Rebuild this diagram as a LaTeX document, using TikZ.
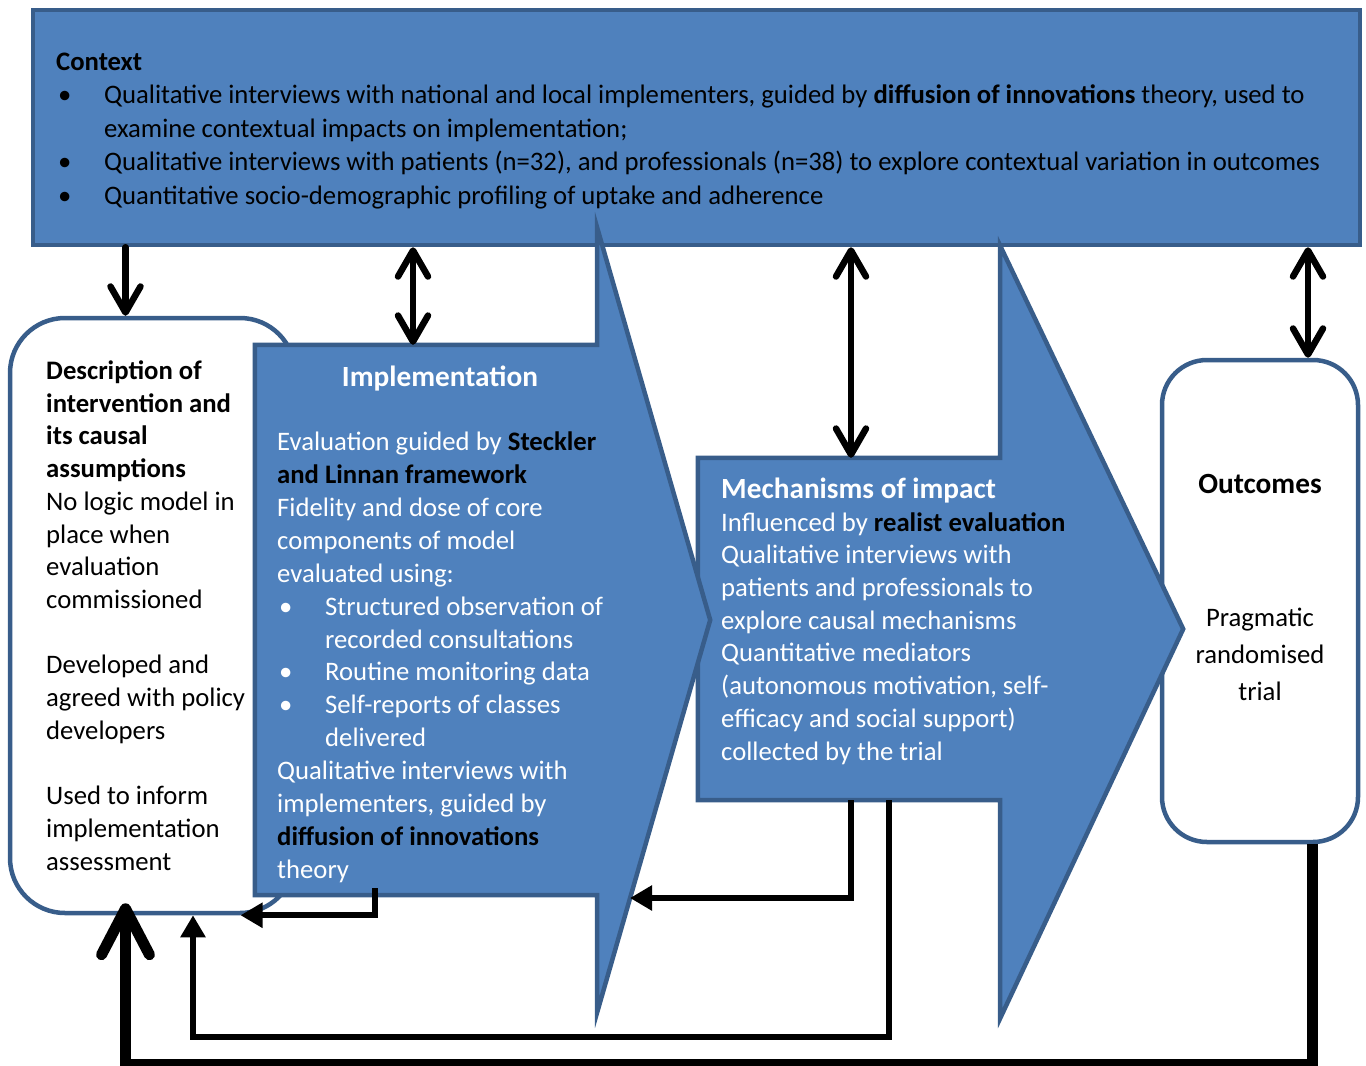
\documentclass[tikz,border=0pt]{standalone}
\usepackage{fontspec}
\setmainfont{Carlito}
\usepackage{tikz}
\usetikzlibrary{arrows.meta}
\definecolor{boxblue}{HTML}{4F81BD}
\definecolor{boxline}{HTML}{385D8A}
\newcommand{\itembul}{\makebox[48pt][l]{\hspace*{2pt}\textbullet}}
\newcommand{\titlesize}{\fontsize{29.3}{35}\selectfont}
\begin{document}
\begin{tikzpicture}[x=1pt,y=-1pt,
bluebox/.style={draw=boxline, fill=boxblue, line width=4.5pt},
whitebox/.style={draw=boxline, fill=white, line width=4.5pt},
frame/.style={draw=none, fill=none, inner sep=0pt},
txt/.style={font=\fontsize{26.7}{32.85}\selectfont, align=left, inner sep=0pt, anchor=base west},
barb/.style={line width=6.5pt, line cap=round, -{Straight Barb[length=26pt,width=30pt,round]}},
dbarb/.style={line width=6.5pt, line cap=round, {Straight Barb[length=26pt,width=30pt,round]}-{Straight Barb[length=26pt,width=30pt,round]}},
tri/.style={line width=6pt, -{Triangle[length=22pt,width=24pt]}},
bigbarb/.style={line width=11pt, -{Straight Barb[length=46pt,width=48pt,round]}}]
\useasboundingbox (0,0) rectangle (1366,1066);
% boxes
\node[bluebox, minimum width=1327pt, minimum height=235pt] (ctx) at (696.5,127.5) {};
\node[whitebox, rounded corners=55pt, minimum width=285pt, minimum height=595pt] (desc) at (152.5,615.5) {};
\node[whitebox, rounded corners=45pt, minimum width=196pt, minimum height=482pt] (outc) at (1260,601) {};
\node[frame, minimum width=302pt, minimum height=342pt] (mech) at (849,629) {};
\draw[bluebox] (mech.north west) -- (mech.north east) -- ([yshift=212pt]mech.north east)
  -- ([xshift=183pt]mech.east) -- ([yshift=-218pt]mech.south east) -- (mech.south east)
  -- (mech.south west) -- cycle;
\node[frame, minimum width=342pt, minimum height=550pt] (impl) at (426,620) {};
\draw[bluebox] (impl.north west) -- (impl.north east) -- ([yshift=117pt]impl.north east)
  -- ([xshift=113pt]impl.east) -- ([yshift=-117pt]impl.south east) -- (impl.south east)
  -- (impl.south west) -- cycle;
% texts (base = last line)
\node[txt, font=\fontsize{26.7}{33.6}\selectfont] (ctxtxt) at (56,204.4) {\textbf{Context}\\
\itembul Qualitative interviews with national and local implementers, guided by \textbf{diffusion of innovations} theory, used to\\
\hspace*{48pt}examine contextual impacts on implementation;\\
\itembul Qualitative interviews with patients (n=32), and professionals (n=38) to explore contextual variation in outcomes\\
\itembul Quantitative socio-demographic profiling of uptake and adherence};
\node[txt, font=\fontsize{26.7}{32.7}\selectfont] (desctxt) at (46,870) {\textbf{Description of}\\ \textbf{intervention and}\\ \textbf{its causal}\\ \textbf{assumptions}\\
No logic model in\\ place when\\ evaluation\\ commissioned\\[32.7pt]
Developed and\\ agreed with policy\\ developers\\[32.7pt]
Used to inform\\ implementation\\ assessment};
\node[txt, anchor=base, text=white, font=\titlesize] (impltitle) at (440,386) {\textbf{Implementation}};
\node[txt, text=white] (impltxt) at (277,878) {Evaluation guided by \textbf{\color{black}Steckler}\\
\textbf{\color{black}and Linnan framework}\\
Fidelity and dose of core\\ components of model\\ evaluated using:\\
\itembul Structured observation of\\ \hspace*{48pt}recorded consultations\\
\itembul Routine monitoring data\\
\itembul Self-reports of classes\\ \hspace*{48pt}delivered\\
Qualitative interviews with\\ implementers, guided by\\
\textbf{\color{black}diffusion of innovations}\\ theory};
\node[txt, anchor=base west, text=white, font=\titlesize] (mechtitle) at (721,498) {\textbf{Mechanisms of impact}};
\node[txt, text=white, font=\fontsize{26.7}{32.7}\selectfont] (mechtxt) at (721,760) {Influenced by \textbf{\color{black}realist evaluation}\\
Qualitative interviews with\\ patients and professionals to\\ explore causal mechanisms\\
Quantitative mediators\\ (autonomous motivation, self-\\ efficacy and social support)\\ collected by the trial};
\node[txt, anchor=base, font=\titlesize] (outctitle) at (1260,493) {\textbf{Outcomes}};
\node[txt, anchor=base, align=center, font=\fontsize{26.7}{37}\selectfont] (outctxt) at (1260,700) {Pragmatic\\ randomised\\ trial};
% connectors
\draw[barb] ([xshift=-27pt]desc.north |- ctx.south) -- ([xshift=-27pt]desc.north);
\draw[dbarb] ([xshift=-13pt]impl.north |- ctx.south) -- ([xshift=-13pt]impl.north);
\draw[dbarb] ([xshift=2pt]mech.north |- ctx.south) -- ([xshift=2pt]mech.north);
\draw[dbarb] ([xshift=48pt]outc.north |- ctx.south) -- ([xshift=48pt]outc.north);
\coordinate (headedge) at (630,898);
\draw[tri] ([xshift=-51pt,yshift=7pt]impl.south) |- ([xshift=88pt]desc.south);
\draw[tri] ([xshift=2pt]mech.south) |- (headedge);
\draw[tri] ([xshift=40pt]mech.south) -- ++(0,237) -| ([xshift=40.5pt]desc.south);
\draw[bigbarb] ([xshift=52pt]outc.south) -- ++(0,220) -| ([xshift=-27pt,yshift=12pt]desc.south);
\end{tikzpicture}
\end{document}
